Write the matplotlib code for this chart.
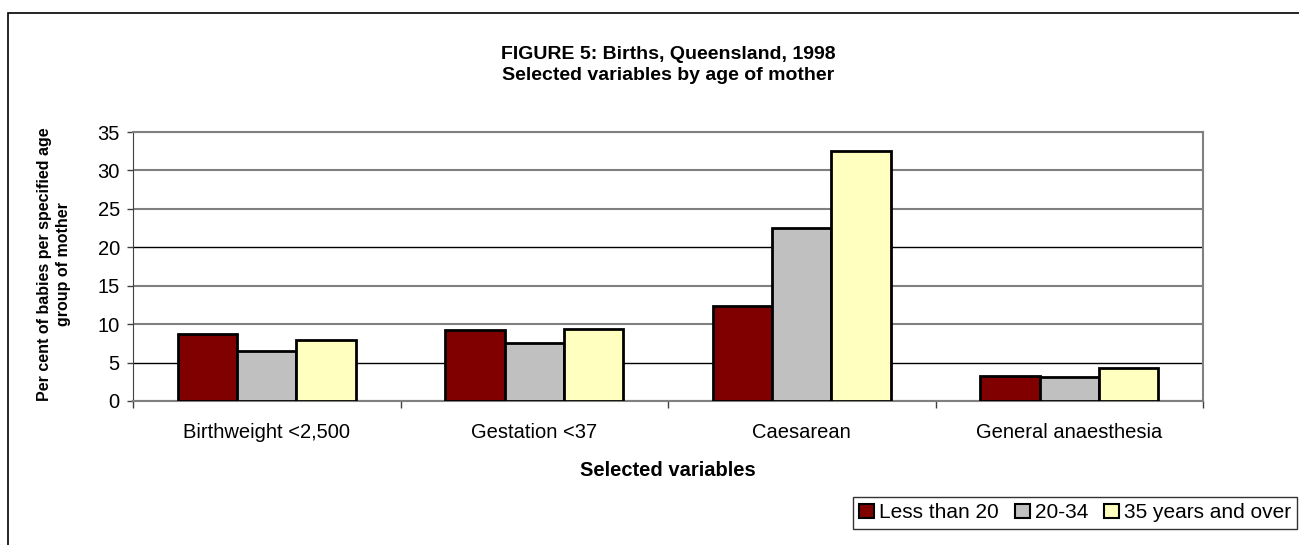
import numpy as np
import matplotlib.pyplot as plt
from matplotlib.patches import Rectangle, Patch

plt.rcParams['font.family'] = ['Liberation Sans', 'DejaVu Sans']

categories = ["Birthweight <2,500", "Gestation <37", "Caesarean", "General anaesthesia"]
series_names = ["Less than 20", "20-34", "35 years and over"]
under_20 = [8.7, 9.2, 12.4, 3.2]
age_20_34 = [6.5, 7.6, 22.5, 3.1]
over_35 = [7.9, 9.4, 32.5, 4.3]
colors = ["#800000", "#C0C0C0", "#FFFFC0"]

W, H = 1299, 545
fig = plt.figure(figsize=(W / 100, H / 100), dpi=100)

# outer chart frame (runs off the right/bottom edge like the original)
fig.patches.append(Rectangle((8 / W, -0.05), 1.1, 1 - 13 / H + 0.05,
                             transform=fig.transFigure, fill=False,
                             edgecolor="black", linewidth=1.2))

ax = fig.add_axes([133 / W, 1 - 401 / H, 1070 / W, 269 / H])

x = np.arange(len(categories))
w = 1 / 4.5
for i, vals in enumerate([under_20, age_20_34, over_35]):
    ax.bar(x + (i - 1) * w, vals, width=w, color=colors[i],
           edgecolor="black", linewidth=2, label=series_names[i], zorder=3)

ax.set_xlim(-0.5, len(categories) - 0.5)
ax.set_ylim(0, 35)
ax.set_yticks(range(0, 36, 5))
ax.tick_params(axis="y", labelsize=14.5, direction="out", length=4.5, width=1,
               color="#404040", pad=5)

# category labels between boundary ticks
ax.set_xticks(np.arange(-0.5, len(categories), 1))
ax.set_xticklabels([])
ax.set_xticks(x, minor=True)
ax.set_xticklabels(categories, minor=True, fontsize=14.5)
ax.tick_params(axis="x", which="major", direction="out", length=5, width=1, color="#404040")
ax.tick_params(axis="x", which="minor", length=0, pad=16)

ax.yaxis.grid(True, color="#808080", linewidth=1.5, zorder=0)
for tick_val, gl in zip(ax.get_yticks(), ax.get_ygridlines()):
    if tick_val in (5, 20):
        gl.set_color("black")
        gl.set_linewidth(1)
ax.set_axisbelow(True)

for s in ["top", "right"]:
    ax.spines[s].set_color("#808080")
    ax.spines[s].set_linewidth(1.5)
ax.spines["left"].set_color("#404040")
ax.spines["bottom"].set_color("#808080")
ax.spines["bottom"].set_linewidth(1.5)

cx = 0.5 * (133 + 1203) / W
fig.text(cx, 1 - 59 / H, "FIGURE 5: Births, Queensland, 1998",
         ha="center", va="baseline", fontsize=14, fontweight="bold")
fig.text(cx, 1 - 80 / H, "Selected variables by age of mother",
         ha="center", va="baseline", fontsize=14, fontweight="bold")
fig.text(cx, 1 - 476 / H, "Selected variables",
         ha="center", va="baseline", fontsize=14.5, fontweight="bold")
fig.text(54 / W, 1 - 264 / H, "Per cent of babies per specified age\ngroup of mother",
         ha="center", va="center", rotation=90, fontsize=11.5, fontweight="bold",
         linespacing=1.35)

handles = [Patch(facecolor=c, edgecolor="black", linewidth=1.5) for c in colors]
leg = fig.legend(handles, series_names, loc="upper right",
                 bbox_to_anchor=(1297 / W, 1 - 497 / H), fontsize=15,
                 ncol=3, frameon=True, fancybox=False, borderpad=0.3,
                 handlelength=0.72, handleheight=0.72, handletextpad=0.24,
                 columnspacing=0.75, borderaxespad=0)
leg.get_frame().set_edgecolor("black")
leg.get_frame().set_linewidth(1)

fig.savefig("out.png", dpi=100)
